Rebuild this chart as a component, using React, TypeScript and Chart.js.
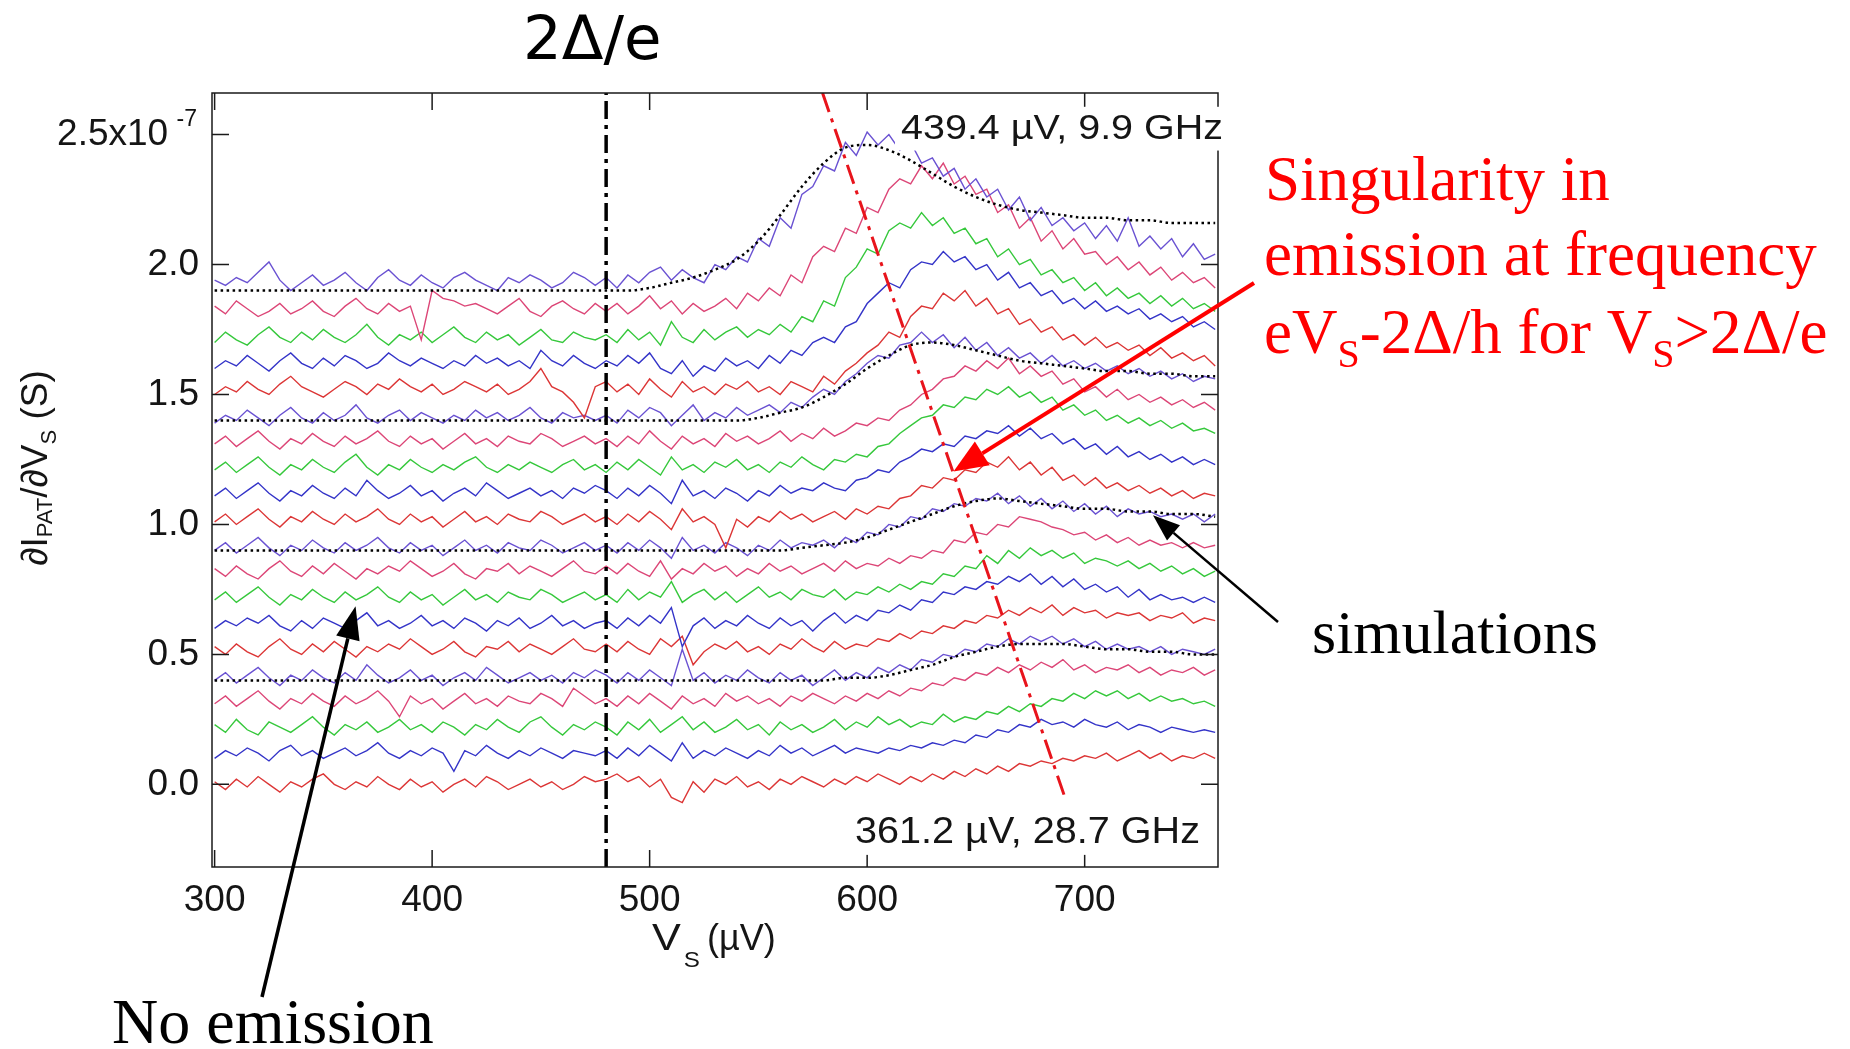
import React, { useEffect, useRef } from "react";
import { Chart, registerables } from "chart.js";

Chart.register(...registerables);

// ---------- DATA (values in units of 1e-9 S, i.e. hundredths of the 1e-7 axis unit) ----------
// bias voltage grid V_S (µV) for the measured traces
const VS_UV = Array.from({ length: 93 }, (_, i) => 300 + 5 * i);
// bias voltage grid for the simulated curves
const SIM_VS_UV = Array.from({ length: 47 }, (_, i) => 300 + 10 * i);

const t190 = [194,192,195,193,197,201,194,190,193,196,192,194,197,193,190,195,198,194,192,196,193,191,195,197,194,192,190,195,193,196,194,191,193,197,195,192,195,191,196,193,197,199,194,198,195,193,200,198,203,201,210,207,218,214,227,230,238,236,247,242,251,246,250,244,247,239,241,234,237,229,233,226,229,221,226,217,222,215,218,213,216,210,215,209,218,207,211,206,210,203,208,202,204];
const t180 = [184,181,186,183,180,182,185,181,183,186,182,180,184,187,183,181,185,182,184,171,190,187,186,184,185,183,181,184,187,182,180,184,186,183,181,185,182,185,181,184,188,183,186,181,185,182,184,187,183,189,186,191,188,196,193,203,207,205,214,212,222,220,229,233,231,238,233,239,231,234,227,229,220,223,214,218,209,213,206,210,204,205,200,203,198,201,196,199,194,197,193,195,191];
const t170 = [170,174,171,169,173,176,172,170,174,171,175,172,170,173,177,172,169,173,171,174,170,173,176,172,170,174,171,173,169,172,175,171,170,174,172,171,173,170,175,171,174,169,178,172,170,175,171,174,176,172,175,173,177,174,180,178,186,184,195,199,206,204,213,216,214,220,215,218,212,214,208,210,203,206,200,202,196,198,193,195,190,193,188,191,187,189,185,188,184,187,183,185,182];
const t160 = [160,163,161,165,162,159,163,166,162,160,164,161,165,163,160,162,166,163,161,164,162,160,163,161,165,162,164,161,163,160,167,163,161,165,162,160,163,161,165,162,166,160,158,163,157,161,159,164,161,163,160,165,162,167,165,170,172,170,176,178,185,189,193,191,198,201,200,205,201,203,198,200,194,197,191,193,188,190,185,187,183,186,182,184,181,183,179,181,178,180,176,178,175];
const t150 = [150,153,151,155,152,150,154,157,153,151,149,152,155,153,150,154,152,156,153,151,154,150,152,155,153,151,154,150,152,155,160,153,151,147,141,153,155,151,154,150,156,152,149,155,151,153,150,154,152,155,151,153,150,155,153,151,157,154,159,162,166,169,174,172,180,184,183,189,186,190,184,187,181,183,177,179,174,176,171,173,169,172,168,170,167,169,165,168,164,166,163,165,161];
const t140 = [139,142,140,144,141,138,142,145,141,139,143,140,142,146,141,139,142,144,140,143,141,139,142,140,144,141,143,140,142,145,141,139,143,141,142,140,142,139,144,141,145,143,138,142,146,140,143,141,145,142,144,146,143,147,145,149,152,150,155,158,162,165,164,169,170,174,170,173,168,172,167,170,165,168,164,166,162,165,161,163,160,162,159,161,158,160,157,159,156,158,155,157,156];
const t130 = [131,134,130,133,136,132,129,133,131,135,132,130,134,131,133,136,132,130,134,131,133,129,132,135,131,133,130,134,132,131,135,133,130,132,134,131,133,130,134,131,136,132,129,134,131,133,130,135,132,134,131,133,136,132,135,133,137,134,136,139,138,141,140,144,146,150,152,156,157,161,159,163,160,164,158,161,157,159,154,156,151,153,149,152,148,150,147,149,146,148,145,147,144];
const t120 = [121,124,120,123,126,122,119,123,121,125,122,120,124,127,122,119,123,121,125,122,120,123,121,124,126,122,120,123,121,124,122,120,123,125,121,123,120,124,121,125,122,119,126,121,123,120,124,122,125,121,123,120,124,122,126,123,121,125,124,127,126,130,131,135,138,141,142,146,145,149,148,152,150,153,149,151,147,149,144,146,142,144,140,142,139,141,138,140,137,139,136,137,135];
const t110 = [111,114,110,113,116,112,109,113,111,115,112,110,114,111,117,113,110,112,115,111,113,109,112,114,111,116,113,110,112,114,111,113,110,114,112,115,113,110,114,111,115,112,108,117,111,113,110,114,112,109,113,111,115,112,114,113,116,114,113,117,118,121,120,124,126,129,128,131,130,134,133,136,135,138,134,137,133,135,131,133,129,131,127,130,126,128,125,127,124,126,123,125,123];
const t100 = [101,104,100,103,106,102,99,103,101,105,102,100,104,101,103,106,102,100,104,101,103,99,102,105,101,103,100,104,102,101,105,103,100,102,104,101,103,100,104,101,105,102,98,106,101,103,100,91,102,99,103,101,105,102,104,101,103,105,102,106,104,107,106,110,111,115,114,118,117,121,120,124,122,126,121,124,119,122,117,119,115,118,114,116,113,115,112,114,111,113,110,112,111];
const t090 = [90,93,89,92,95,91,88,92,90,94,91,89,93,90,92,95,91,89,93,90,92,88,91,94,90,92,89,93,91,90,94,92,89,91,93,90,92,89,93,90,94,91,87,95,90,92,89,93,91,88,92,90,94,91,93,92,94,91,95,93,97,96,100,99,103,102,106,105,108,107,110,109,112,108,111,107,110,106,109,105,108,104,107,103,106,104,105,103,104,102,104,101,104];
const t080 = [83,80,84,81,79,83,86,82,80,84,81,85,82,79,83,81,84,82,86,83,80,82,85,81,79,83,82,85,81,84,82,80,83,86,82,81,84,81,85,82,80,86,79,83,81,85,82,84,80,83,81,85,82,84,81,83,85,82,86,83,85,84,87,85,88,87,90,89,94,93,97,96,100,99,103,102,101,99,98,96,97,94,96,93,95,92,94,92,93,91,93,91,92];
const t070 = [71,74,70,73,76,72,69,73,71,75,72,70,74,71,73,76,72,70,74,71,73,69,72,75,71,73,70,74,72,71,75,73,70,72,74,71,73,70,75,71,74,72,78,70,73,75,71,74,70,73,76,72,74,71,75,73,72,75,71,74,73,76,74,77,75,78,77,81,80,84,83,88,85,90,87,91,88,90,87,89,85,87,86,84,86,83,85,82,84,81,83,80,82];
const t060 = [60,63,61,64,62,65,61,59,63,60,64,62,60,63,66,61,63,60,62,65,61,63,60,64,62,59,63,61,64,60,62,65,61,63,60,62,63,60,64,61,65,62,68,53,61,64,60,63,61,65,62,60,64,61,63,59,63,66,62,65,63,67,66,69,67,71,70,74,73,76,75,78,77,80,78,81,77,80,76,79,75,77,74,76,72,75,71,73,71,72,70,72,70];
const t050 = [53,50,54,51,49,53,56,52,50,54,51,55,52,49,53,51,54,52,56,53,50,52,55,51,49,53,52,55,51,54,52,50,53,56,52,51,54,51,55,52,50,56,53,57,46,51,54,52,55,51,53,50,54,52,56,53,51,55,52,54,53,56,55,58,56,59,58,61,60,63,62,65,64,67,65,68,66,69,65,68,66,67,64,66,65,66,63,65,64,66,62,64,63];
const t040 = [40,43,39,42,45,41,38,42,40,44,41,39,43,40,46,42,39,41,44,40,42,38,41,43,40,45,42,39,41,43,40,42,39,43,41,44,42,39,43,40,44,41,38,52,40,43,39,42,40,44,41,39,43,40,42,38,41,44,40,43,41,45,43,46,44,48,47,50,49,52,51,54,53,56,54,57,55,57,54,56,53,55,52,54,52,53,51,53,50,52,51,50,52];
const t030 = [31,34,30,33,36,32,29,33,31,35,32,30,34,31,33,36,32,26,34,31,33,29,32,35,31,33,30,34,32,31,35,33,30,37,34,31,33,30,34,31,35,32,29,34,31,33,30,35,32,34,31,33,30,34,32,35,33,31,34,32,35,33,36,34,37,36,39,38,41,40,43,42,45,43,46,44,47,45,48,44,46,43,45,44,46,43,45,42,44,43,45,42,44];
const t020 = [23,20,25,21,19,24,22,20,23,26,22,19,23,21,24,20,22,25,21,23,20,24,22,19,23,21,25,22,20,24,26,22,19,23,21,24,22,19,24,21,25,20,23,26,21,24,20,22,25,21,23,19,24,21,23,20,22,25,21,24,22,26,23,25,22,24,23,27,24,26,25,28,27,30,28,31,30,33,32,35,33,36,34,36,33,35,32,34,32,33,31,32,30];
const t010 = [10,13,11,14,12,9,13,15,11,13,10,12,14,11,13,16,12,10,13,11,14,12,5,13,11,15,12,10,13,11,14,12,10,13,12,11,13,10,14,11,15,12,9,16,10,13,11,14,12,10,13,11,15,12,14,11,13,15,12,14,13,12,14,13,15,14,16,15,17,16,19,18,21,20,23,22,25,23,24,22,25,23,22,24,21,23,22,20,22,21,20,21,20];
const t000 = [1,-2,2,-1,3,0,-3,1,-1,2,4,0,-2,1,-1,3,0,-2,2,-1,1,-3,0,2,-1,3,1,-2,0,2,-1,1,-2,0,3,1,2,4,1,3,-1,2,-5,-7,1,-3,2,0,3,-1,1,-2,2,0,3,1,-1,2,0,3,1,4,2,0,3,1,4,2,5,3,6,4,7,5,8,7,9,8,10,9,11,10,12,9,11,13,10,12,9,11,10,12,10];

// simulations (black dotted), same units
const sim190 = [190,190,190,190,190,190,190,190,190,190,190,190,190,190,190,190,190,190,190,190,191,193,195,198,202,209,219,230,239,245,246,244,240,235,230,226,223,221,220,219,218,218,217,217,216,216,216];
const sim140 = [140,140,140,140,140,140,140,140,140,140,140,140,140,140,140,140,140,140,140,140,140,140,140,140,140,141,143,145,149,154,160,165,169,170,169,167,165,163,162,161,160,159,159,158,158,157,157];
const sim090 = [90,90,90,90,90,90,90,90,90,90,90,90,90,90,90,90,90,90,90,90,90,90,90,90,90,90,90,91,92,93,95,98,101,104,107,109,110,109,108,107,106,106,105,105,104,104,103];
const sim040 = [40,40,40,40,40,40,40,40,40,40,40,40,40,40,40,40,40,40,40,40,40,40,40,40,40,40,40,40,40,41,41,42,44,46,49,51,53,54,54,54,53,52,52,51,51,50,50];

// reference lines
const GAP_LINE_X = [480, 480]; // 2Δ/e
const GAP_LINE_Y = [-0.318, 2.66];
const SINGULARITY_X = [579.5, 690.5];
const SINGULARITY_Y = [2.66, -0.04];

// axis ticks
const X_TICKS = [300, 400, 500, 600, 700];
const Y_TICKS = [0, 0.5, 1.0, 1.5, 2.0, 2.5];

const TRACES = [t190, t180, t170, t160, t150, t140, t130, t120, t110, t100, t090, t080, t070, t060, t050, t040, t030, t020, t010, t000];
const SIMS = [sim190, sim140, sim090, sim040];

// ---------- STYLE ----------
const TRACE_COLORS = ["#6a52d2", "#dc4677", "#36c83c", "#3434c8", "#dc3636"];
const SANS = "'Liberation Sans', Arial, sans-serif";
const SERIF = "'Liberation Serif', 'Times New Roman', serif";
const W = 1850;
const H = 1049;

type Seg = { t: string; font: string; dy?: number };

function measureRich(ctx: CanvasRenderingContext2D, segs: Seg[]) {
  let w = 0;
  for (const s of segs) {
    ctx.font = s.font;
    w += ctx.measureText(s.t).width;
  }
  return w;
}

function drawRich(ctx: CanvasRenderingContext2D, x: number, y: number, segs: Seg[], color: string) {
  ctx.fillStyle = color;
  ctx.textAlign = "left";
  ctx.textBaseline = "alphabetic";
  let cx = x;
  for (const s of segs) {
    ctx.font = s.font;
    ctx.fillText(s.t, cx, y + (s.dy || 0));
    cx += ctx.measureText(s.t).width;
  }
}

function drawArrow(
  ctx: CanvasRenderingContext2D,
  x1: number, y1: number, x2: number, y2: number,
  color: string, lw: number, headLen: number, headHalf: number
) {
  const ang = Math.atan2(y2 - y1, x2 - x1);
  const bx = x2 - headLen * Math.cos(ang);
  const by = y2 - headLen * Math.sin(ang);
  ctx.strokeStyle = color;
  ctx.lineWidth = lw;
  ctx.setLineDash([]);
  ctx.beginPath();
  ctx.moveTo(x1, y1);
  ctx.lineTo(bx, by);
  ctx.stroke();
  ctx.fillStyle = color;
  ctx.beginPath();
  ctx.moveTo(x2, y2);
  ctx.lineTo(bx + headHalf * Math.sin(ang), by - headHalf * Math.cos(ang));
  ctx.lineTo(bx - headHalf * Math.sin(ang), by + headHalf * Math.cos(ang));
  ctx.closePath();
  ctx.fill();
}

function stretchedText(
  ctx: CanvasRenderingContext2D, text: string, left: number, baseline: number,
  font: string, sx: number, color: string
) {
  ctx.save();
  ctx.font = font;
  ctx.translate(left, baseline);
  ctx.scale(sx, 1);
  ctx.fillStyle = color;
  ctx.textAlign = "left";
  ctx.textBaseline = "alphabetic";
  ctx.fillText(text, 0, 0);
  const w = ctx.measureText(text).width * sx;
  ctx.restore();
  return w;
}

function boxedLabel(
  ctx: CanvasRenderingContext2D, text: string, left: number, baseline: number,
  size: number, targetW: number
) {
  ctx.font = `${size}px ${SANS}`;
  const w = ctx.measureText(text).width;
  ctx.fillStyle = "#ffffff";
  ctx.fillRect(left - 6, baseline - size * 0.92, targetW + 12, size * 1.25);
  stretchedText(ctx, text, left, baseline, `${size}px ${SANS}`, targetW / w, "#151515");
}

const annotationPlugin = {
  id: "annotations",
  afterDatasetsDraw(chart: any) {
    const { ctx, chartArea: a, scales } = chart;
    const x = scales.x;
    const y = scales.y;
    ctx.save();
    ctx.setLineDash([]);
    // frame
    ctx.strokeStyle = "#1a1a1a";
    ctx.lineWidth = 1.5;
    ctx.strokeRect(a.left, a.top, a.right - a.left, a.bottom - a.top);
    // inward ticks on all four sides
    ctx.beginPath();
    for (const v of X_TICKS) {
      const px = x.getPixelForValue(v);
      ctx.moveTo(px, a.bottom);
      ctx.lineTo(px, a.bottom - 17);
      ctx.moveTo(px, a.top);
      ctx.lineTo(px, a.top + 17);
    }
    for (const v of Y_TICKS) {
      const py = y.getPixelForValue(v);
      ctx.moveTo(a.left, py);
      ctx.lineTo(a.left + 17, py);
      ctx.moveTo(a.right, py);
      ctx.lineTo(a.right - 17, py);
    }
    ctx.stroke();
    // in-plot labels
    boxedLabel(ctx, "439.4 \u00b5V, 9.9 GHz", 901, 139, 35, 322);
    boxedLabel(ctx, "361.2 \u00b5V, 28.7 GHz", 855, 843, 36, 345);
    ctx.restore();
  },
  afterDraw(chart: any) {
    const { ctx, scales } = chart;
    const x = scales.x;
    const y = scales.y;
    ctx.save();
    ctx.setLineDash([]);

    // exponent of the top y tick label
    ctx.font = `23px ${SANS}`;
    ctx.fillStyle = "#111";
    ctx.textAlign = "right";
    ctx.textBaseline = "alphabetic";
    ctx.fillText("-7", 197, y.getPixelForValue(2.5) - 9);

    // title 2Δ/e
    ctx.font = `61px 'DejaVu Sans', sans-serif`;
    ctx.fillStyle = "#000";
    ctx.textAlign = "left";
    ctx.fillText("2\u0394/e", 523, 59);

    // y-axis title (rotated)
    const ySegs: Seg[] = [
      { t: "\u2202I", font: `37px ${SANS}` },
      { t: "PAT", font: `22px ${SANS}`, dy: 5 },
      { t: "/\u2202V", font: `37px ${SANS}` },
      { t: "S", font: `22px ${SANS}`, dy: 9 },
      { t: " (S)", font: `37px ${SANS}` },
    ];
    ctx.save();
    ctx.translate(47, 468);
    ctx.rotate(-Math.PI / 2);
    const yw = measureRich(ctx, ySegs);
    drawRich(ctx, -yw / 2, 0, ySegs, "#151515");
    ctx.restore();

    // x-axis title
    const vW = stretchedText(ctx, "V", 652, 950, `36px ${SANS}`, 1.2, "#151515");
    stretchedText(ctx, "S", 652 + vW + 3, 967, `22px ${SANS}`, 1.1, "#151515");
    stretchedText(ctx, "(\u00b5V)", 707, 950, `36px ${SANS}`, 1.0, "#151515");

    // red annotation
    const big = `63px ${SERIF}`;
    const sub = `40px ${SERIF}`;
    drawRich(ctx, 1265, 200, [{ t: "Singularity in", font: big }], "#ff0000");
    drawRich(ctx, 1264, 275, [{ t: "emission at frequency", font: big }], "#ff0000");
    drawRich(ctx, 1264, 353, [
      { t: "eV", font: big },
      { t: "S", font: sub, dy: 14 },
      { t: "-2\u0394/h for V", font: big },
      { t: "S", font: sub, dy: 14 },
      { t: ">2\u0394/e", font: big },
    ], "#ff0000");
    drawArrow(ctx, 1254, 283, x.getPixelForValue(639.7), y.getPixelForValue(1.204), "#ff0000", 4, 34, 14);

    // simulations
    drawRich(ctx, 1312, 653, [{ t: "simulations", font: `62px ${SERIF}` }], "#000");
    drawArrow(ctx, 1278, 622, x.getPixelForValue(731.4), y.getPixelForValue(1.035), "#000", 2.5, 27, 10);

    // no emission
    drawRich(ctx, 112, 1043, [{ t: "No emission", font: `64px ${SERIF}` }], "#000");
    drawArrow(ctx, 262, 997, x.getPixelForValue(364.8), y.getPixelForValue(0.685), "#000", 3.5, 33, 12);

    ctx.restore();
  },
};

export default function App() {
  const ref = useRef<HTMLCanvasElement | null>(null);

  useEffect(() => {
    if (!ref.current) return;
    const datasets: any[] = [];
    datasets.push({
      data: SINGULARITY_X.map((v, i) => ({ x: v, y: SINGULARITY_Y[i] })),
      borderColor: "#e8141c",
      borderWidth: 3,
      borderDash: [20, 7, 4, 7],
      pointRadius: 0,
      fill: false,
    });
    datasets.push({
      data: GAP_LINE_X.map((v, i) => ({ x: v, y: GAP_LINE_Y[i] })),
      borderColor: "#000000",
      borderWidth: 3.5,
      borderDash: [18, 6, 4, 6],
      pointRadius: 0,
      fill: false,
    });
    SIMS.forEach((s) => {
      datasets.push({
        data: s.map((v, i) => ({ x: SIM_VS_UV[i], y: v / 100 })),
        borderColor: "#000000",
        borderWidth: 2.5,
        borderDash: [2.5, 3.5],
        cubicInterpolationMode: "monotone",
        pointRadius: 0,
        fill: false,
      });
    });
    TRACES.forEach((tr, k) => {
      datasets.push({
        data: tr.map((v, i) => ({ x: VS_UV[i], y: v / 100 })),
        borderColor: TRACE_COLORS[k % 5],
        borderWidth: 1.4,
        pointRadius: 0,
        tension: 0,
        fill: false,
      });
    });

    const chart = new Chart(ref.current, {
      type: "line",
      data: { datasets },
      options: {
        animation: false,
        responsive: false,
        devicePixelRatio: 1,
        events: [],
        layout: { padding: { left: 0, top: 93, right: 632, bottom: 0 } },
        plugins: {
          legend: { display: false },
          title: { display: false },
          tooltip: { enabled: false },
        },
        scales: {
          x: {
            type: "linear",
            min: 298.8,
            max: 761.3,
            grid: { display: false, drawTicks: false },
            border: { display: false },
            ticks: {
              padding: 12,
              color: "#151515",
              font: { family: SANS, size: 37 },
              maxRotation: 0,
              autoSkip: false,
              callback: (v: any) => String(v),
            },
            afterBuildTicks: (s: any) => {
              s.ticks = X_TICKS.map((v) => ({ value: v }));
            },
            afterFit: (s: any) => {
              s.height = 182;
            },
          },
          y: {
            type: "linear",
            min: -0.318,
            max: 2.66,
            grid: { display: false, drawTicks: false },
            border: { display: false },
            ticks: {
              padding: 13,
              color: "#151515",
              font: { family: SANS, size: 37 },
              autoSkip: false,
              callback: (v: any) => (Math.abs(v - 2.5) < 1e-9 ? "2.5x10   " : Number(v).toFixed(1)),
            },
            afterBuildTicks: (s: any) => {
              s.ticks = Y_TICKS.map((v) => ({ value: v }));
            },
            afterFit: (s: any) => {
              s.width = 212;
            },
          },
        },
      } as any,
      plugins: [annotationPlugin],
    });
    return () => chart.destroy();
  }, []);

  return (
    <div style={{ position: "absolute", left: 0, top: 0, width: W, height: H, background: "#fff" }}>
      <canvas ref={ref} width={W} height={H} style={{ width: W, height: H, display: "block" }} />
    </div>
  );
}
